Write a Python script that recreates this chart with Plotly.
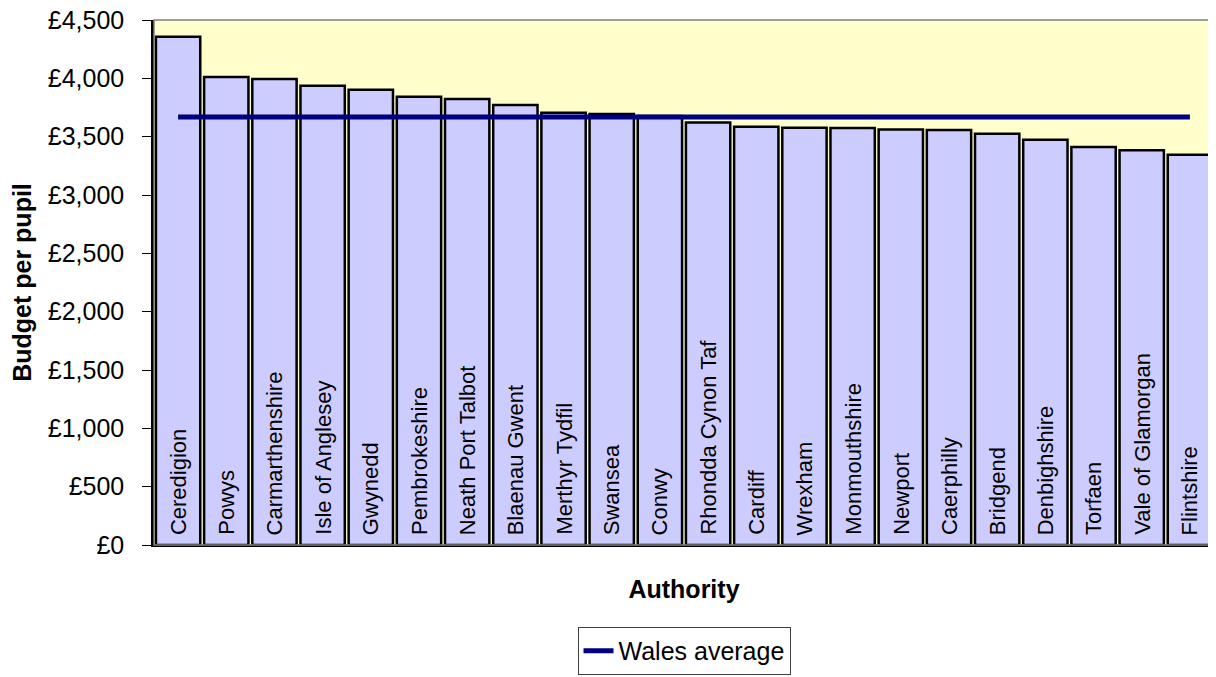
import plotly.graph_objects as go

authorities = ["Ceredigion", "Powys", "Carmarthenshire", "Isle of Anglesey", "Gwynedd",
               "Pembrokeshire", "Neath Port Talbot", "Blaenau Gwent", "Merthyr Tydfil",
               "Swansea", "Conwy", "Rhondda Cynon Taf", "Cardiff", "Wrexham",
               "Monmouthshire", "Newport", "Caerphilly", "Bridgend", "Denbighshire",
               "Torfaen", "Vale of Glamorgan", "Flintshire"]
budget_per_pupil = [4357, 4011, 3994, 3937, 3902, 3842, 3823, 3771, 3705, 3694, 3678,
                    3622, 3585, 3576, 3575, 3562, 3557, 3525, 3473, 3411, 3383, 3345]
wales_average = [3668, 3668, 3668, 3668, 3668, 3668, 3668, 3668, 3668, 3668, 3668,
                 3668, 3668, 3668, 3668, 3668, 3668, 3668, 3668, 3668, 3668, 3668]
y_ticks = [0, 500, 1000, 1500, 2000, 2500, 3000, 3500, 4000, 4500]
y_tick_labels = ["\u00a30", "\u00a3500", "\u00a31,000", "\u00a31,500", "\u00a32,000",
                 "\u00a32,500", "\u00a33,000", "\u00a33,500", "\u00a34,000", "\u00a34,500"]

FONT = "Liberation Sans, Arial, sans-serif"

fig = go.Figure()
fig.add_trace(go.Bar(
    x=authorities, y=budget_per_pupil, name="Budget per pupil",
    marker=dict(color="#CCCCFF", line=dict(color="#000000", width=2.5)),
    showlegend=False, hoverinfo="x+y",
))
fig.add_trace(go.Scatter(
    x=authorities, y=wales_average, name="Wales average", mode="lines",
    line=dict(color="#000080", width=5),
))

for a in authorities:
    fig.add_annotation(x=a, y=0, xref="x", yref="y", text=a, textangle=-90,
                       showarrow=False, xanchor="center", yanchor="bottom", yshift=8,
                       font=dict(family=FONT, size=22, color="#000000"))

fig.add_shape(type="rect", xref="paper", yref="paper", x0=0, x1=1, y0=0, y1=1,
              line=dict(color="#808080", width=1.5), layer="above")

# page body has an 8px default margin, so the figure is sized to fit the window
fig.update_layout(
    width=1208, height=669,
    margin=dict(l=146, r=2, t=12, b=132, autoexpand=False),
    paper_bgcolor="#FFFFFF", plot_bgcolor="#FFFFCC",
    font=dict(family=FONT, size=22, color="#000000"),
    bargap=0.08,
    showlegend=True,
    legend=dict(x=0.5, xanchor="center", yref="container", y=0.003, yanchor="bottom",
                orientation="h", bgcolor="#FFFFFF", bordercolor="#404040", borderwidth=1,
                font=dict(family=FONT, size=25, color="#000000")),
    xaxis=dict(showticklabels=False, ticks="", showline=True, linecolor="#000000",
               linewidth=2, showgrid=False, zeroline=False,
               title=dict(text="<b>Authority</b>", standoff=34,
                          font=dict(family=FONT, size=25))),
    yaxis=dict(range=[0, 4500], tickvals=y_ticks, ticktext=y_tick_labels,
               ticks="outside", ticklen=9, tickcolor="#000000", tickwidth=1,
               showline=True, linecolor="#000000", linewidth=2.5, showgrid=False,
               zeroline=False, ticklabelstandoff=13, ticklabeloverflow="allow",
               tickfont=dict(family=FONT, size=25),
               title=dict(text="<b>Budget per pupil</b>", standoff=14,
                          font=dict(family=FONT, size=25))),
)

fig.write_html("out.html")
